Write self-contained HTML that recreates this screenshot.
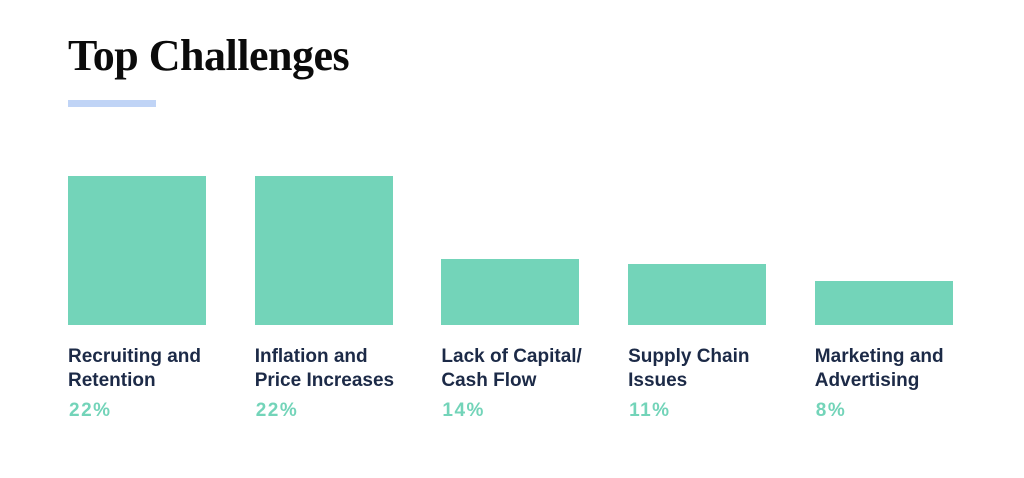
<!DOCTYPE html>
<html><head><meta charset="utf-8"><style>
body{margin:0;width:1024px;height:478px;background:#fff;overflow:hidden;position:relative;font-family:"Liberation Sans",sans-serif}
#title{position:absolute;left:68px;top:30px;font-family:"Liberation Serif",serif;font-weight:bold;font-size:44px;color:#0b0b0b;letter-spacing:-0.5px;margin:0}
#accent{position:absolute;left:68px;top:100px;width:88px;height:7px;background:#c0d4f6}
.bar{position:absolute;background:#73d4b9}
.lbl{position:absolute;font-weight:bold;font-size:19px;line-height:24px;color:#1c2a47}
.pct{position:absolute;font-weight:bold;font-size:19px;color:#73d4b9;letter-spacing:1.5px}
</style></head><body>
<h1 id="title">Top Challenges</h1>
<div id="accent"></div>
<div id="chart"></div>
<script>
const categories=["Recruiting and<br>Retention","Inflation and<br>Price Increases","Lack of Capital/<br>Cash Flow","Supply Chain<br>Issues","Marketing and<br>Advertising"];
const barValues=[22,22,9.8,9.0,6.5];
const printedValues=["22%","22%","14%","11%","8%"];
const chart=document.getElementById('chart');
const baseY=325,maxH=149,maxV=22,x0=68,step=186.7,bw=138;
function yScale(v){return v/maxV*maxH;}
function xScale(i){return x0+i*step;}
categories.forEach((c,i)=>{
  const h=yScale(barValues[i]);
  const b=document.createElement('div');b.className='bar';
  
  
  b.style.left=xScale(i)+'px';b.style.width=bw+'px';b.style.top=(baseY-h)+'px';b.style.height=h+'px';
  chart.appendChild(b);
  const l=document.createElement('div');l.className='lbl';
  
  
  l.style.left=xScale(i)+'px';l.style.top='345px';l.innerHTML=c;
  chart.appendChild(l);
  const p=document.createElement('div');p.className='pct';
  
  
  p.style.left=(xScale(i)+1)+'px';p.style.top='400px';p.textContent=printedValues[i];
  chart.appendChild(p);
});
</script>
</body></html>
